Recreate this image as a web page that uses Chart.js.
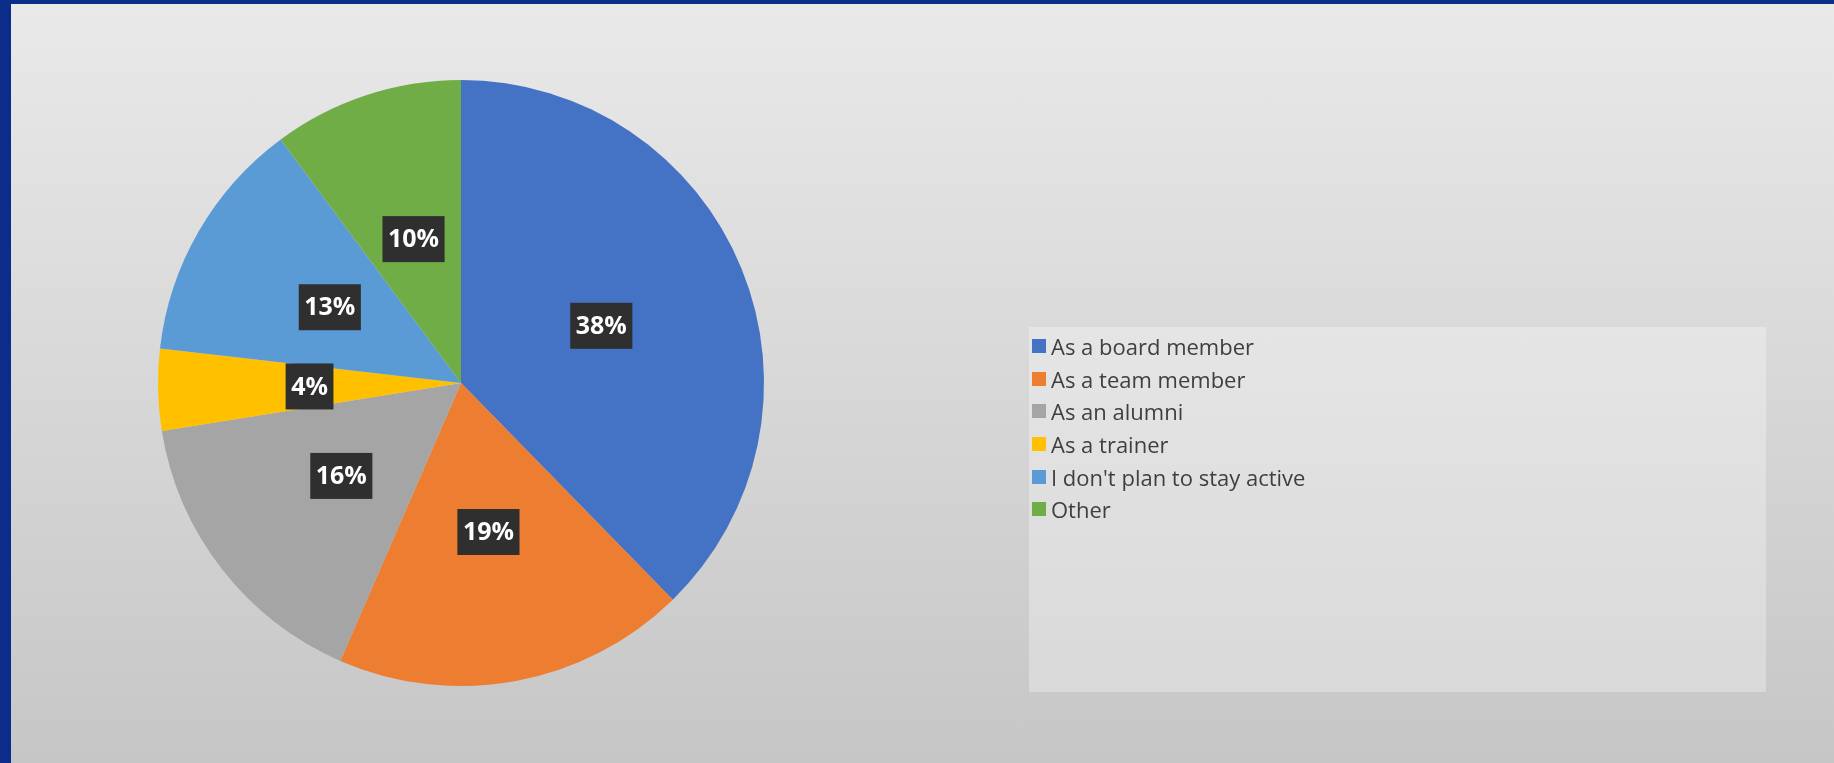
<!DOCTYPE html>
<html>
<head>
<meta charset="utf-8">
<script src="https://cdn.jsdelivr.net/npm/chart.js@4/dist/chart.umd.min.js"></script>
<style>
	body{margin:0;width:1834px;height:763px;background:#0b2d89;overflow:hidden;font-family:"Open Sans",sans-serif;}
	#panel{position:absolute;left:11px;top:4px;width:1823px;height:759px;background:linear-gradient(to bottom,#e9e9e9,#c6c6c6);}
	#chartBox{position:absolute;left:0;top:0;width:1823px;height:759px;}
	#legend{position:absolute;left:1018px;top:323px;width:737px;height:365px;background:rgba(255,255,255,0.3);}
	#legend ul{list-style:none;margin:0;padding:3px 0 0 3px;}
	#legend li{display:flex;align-items:center;height:32.6px;font-size:22px;color:#3f3f3f;white-space:nowrap;}
	#legend li span{display:inline-block;width:14px;height:14px;margin-right:5px;}
</style>
</head>
<body>
<div id="panel">
	<div id="chartBox"><canvas id="pie"></canvas></div>
	<div id="legend"></div>
</div>
<script>
const categories = ['As a board member', 'As a team member', 'As an alumni', 'As a trainer', "I don't plan to stay active", 'Other'];
// response counts (labels show rounded shares)
const responses = [26, 13, 11, 3, 9, 7];
const sliceColors = ['#4472C4', '#ED7D31', '#A5A5A5', '#FFC000', '#5B9BD5', '#70AD47'];

// dark boxed percentage labels in the middle of each slice
const sliceLabels = {
	id: 'sliceLabels',
	afterDatasetsDraw(chart){
		const ctx = chart.ctx;
		const meta = chart.getDatasetMeta(0);
		const values = chart.data.datasets[0].data;
		const total = values.reduce((a, b) => a + b, 0);
		ctx.save();
		ctx.font = 'bold 25px "Open Sans"';
		ctx.textAlign = 'center';
		ctx.textBaseline = 'middle';
		meta.data.forEach((arc, i) =>{
			const pos = arc.tooltipPosition();
			const text = Math.round(values[i] / total * 100) + '%';
			const w = ctx.measureText(text).width + 11;
			const h = 46;
			ctx.fillStyle = '#2f2f2f';
			ctx.fillRect(pos.x - w/2, pos.y - h/2, w, h);
			ctx.fillStyle = '#ffffff';
			ctx.fillText(text, pos.x, pos.y + 1);
		});
		ctx.restore();
	}
};

// html legend built from the chart's own legend items
const htmlLegend = {
	id: 'htmlLegend',
	afterUpdate(chart){
		const cont = document.getElementById('legend');
		cont.textContent = '';
		const ul = document.createElement('ul');
		const items = chart.options.plugins.legend.labels.generateLabels(chart);
		items.forEach((item) =>{
			const li = document.createElement('li');
			const box = document.createElement('span');
			box.style.background = item.fillStyle;
			li.appendChild(box);
			li.appendChild(document.createTextNode(item.text));
			ul.appendChild(li);
		});
		cont.appendChild(ul);
	}
};

new Chart(document.getElementById('pie'), {
	type: 'pie',
	data: {
		labels: categories,
		datasets: [{
			data: responses,
			backgroundColor: sliceColors,
			borderWidth: 0
		}]
	},
	options: {
		responsive: true,
		maintainAspectRatio: false,
		animation: false,
		layout: {padding: {left: 147, right: 1070, top: 76, bottom: 77}},
		plugins: {
			legend: {display: false},
			tooltip: {enabled: false}
		}
	},
	plugins: [sliceLabels, htmlLegend]
});
</script>
</body>
</html>
